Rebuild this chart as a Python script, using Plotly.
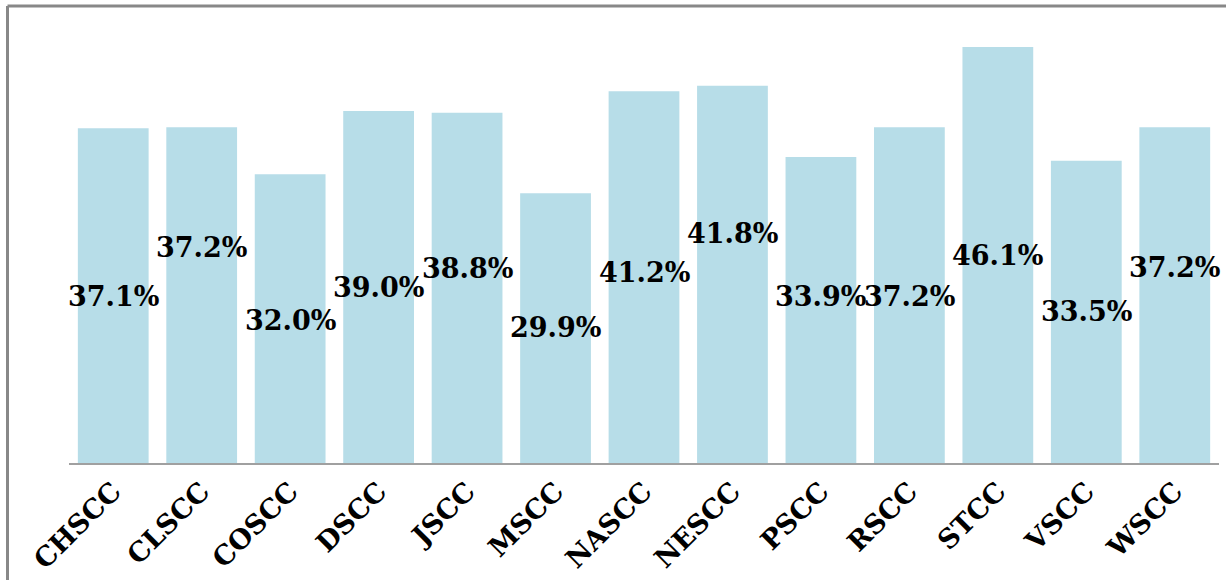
import plotly.graph_objects as go

categories = ["CHSCC", "CLSCC", "COSCC", "DSCC", "JSCC", "MSCC", "NASCC",
              "NESCC", "PSCC", "RSCC", "STCC", "VSCC", "WSCC"]
values = [37.1, 37.2, 32.0, 39.0, 38.8, 29.9, 41.2, 41.8, 33.9, 37.2, 46.1, 33.5, 37.2]
labels = ["37.1%", "37.2%", "32.0%", "39.0%", "38.8%", "29.9%", "41.2%",
          "41.8%", "33.9%", "37.2%", "46.1%", "33.5%", "37.2%"]
# heights (in value units) at which each label sits
label_y = [18.4, 23.9, 15.8, 19.5, 21.6, 15.0, 21.1, 25.4, 18.5, 18.5, 23.0, 16.8, 21.7]

W, H = 1226, 580
ml, mr, mt, mb = 69, 7, 8, 117
pw, ph = W - ml - mr, H - mt - mb
ymax = 50.42

FONT = "DejaVu Serif"

fig = go.Figure()
fig.add_trace(go.Bar(
    x=categories, y=values,
    marker=dict(color="#b7dde8", line=dict(width=0)),
    hoverinfo="skip",
))

for c, lab, ly in zip(categories, labels, label_y):
    fig.add_annotation(x=c, y=ly, text=lab, showarrow=False,
                       font=dict(family=FONT, size=27, color="#000000", weight=700),
                       xanchor="center", yanchor="middle")

# outer frame lines (top and left)
def px2paper_x(px):
    return (px - ml) / pw

def px2paper_y(py):
    return (H - mb - py) / ph

fig.add_shape(type="line", xref="paper", yref="paper",
              x0=px2paper_x(7.5), x1=px2paper_x(W + 5), y0=px2paper_y(6), y1=px2paper_y(6),
              line=dict(color="#888888", width=3))
fig.add_shape(type="line", xref="paper", yref="paper",
              x0=px2paper_x(7.5), x1=px2paper_x(7.5), y0=px2paper_y(6), y1=px2paper_y(H + 5),
              line=dict(color="#888888", width=3))

fig.update_layout(
    width=W, height=H,
    margin=dict(l=ml, r=mr, t=mt, b=mb, pad=0, autoexpand=False),
    paper_bgcolor="white", plot_bgcolor="white",
    bargap=0.2,
    showlegend=False,
    xaxis=dict(
        type="category", automargin=False,
        range=[-0.5, len(categories) - 0.5],
        showline=True, linecolor="#a0a0a0", linewidth=1.5,
        showgrid=False, ticks="", tickangle=-45,
        tickfont=dict(family=FONT, size=27, color="#000000", weight=700),
    ),
    yaxis=dict(range=[0, ymax], visible=False, showgrid=False, zeroline=False,
               automargin=False),
)

fig.write_html("out.html", config={"displayModeBar": False},
               post_script="document.body.style.margin='0';document.body.style.overflow='hidden';")
